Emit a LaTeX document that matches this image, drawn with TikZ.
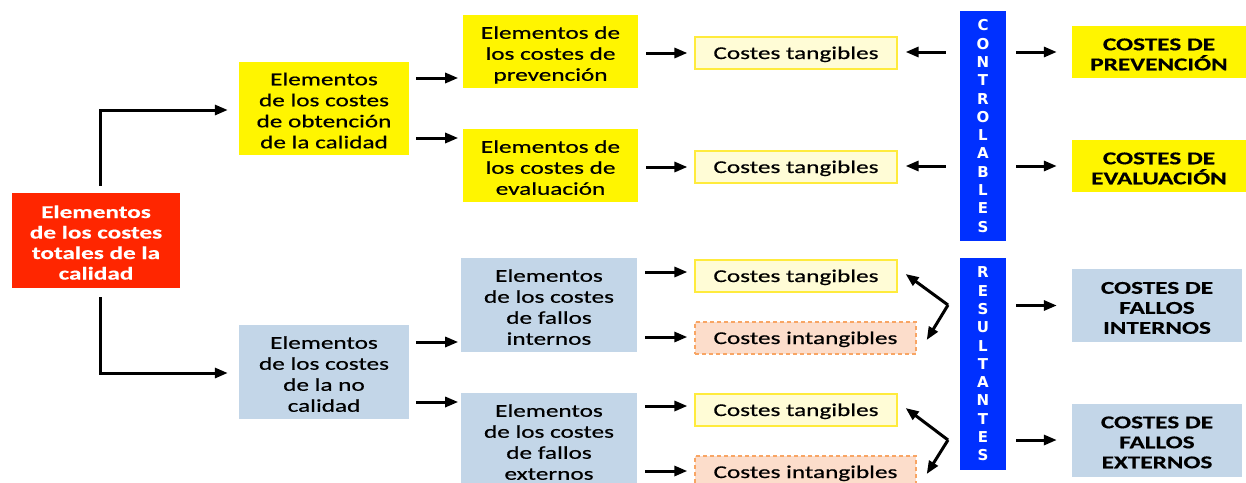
\documentclass[tikz,border=0pt]{standalone}
\usepackage{fontspec}
\setmainfont[FakeStretch=1.4, UprightFeatures={FakeBold=0.5}, BoldFeatures={FakeBold=0.4}]{Carlito}
\newfontfamily\barfont{DejaVu Sans}
\usetikzlibrary{arrows.meta,calc}
\definecolor{myred}{RGB}{255,38,0}
\definecolor{myyellow}{RGB}{255,245,0}
\definecolor{lblue}{RGB}{195,214,232}
\definecolor{barblue}{RGB}{0,48,255}
\definecolor{tfill}{RGB}{255,252,214}
\definecolor{tborder}{RGB}{255,235,60}
\definecolor{ifill}{RGB}{252,221,203}
\definecolor{iborder}{RGB}{248,165,100}
\newcommand{\fs}{\rule{0pt}{20.5pt}}
\newcommand{\ls}{\rule[-4pt]{0pt}{4pt}}
\newcommand{\sst}{\rule[-4pt]{0pt}{20pt}}
\begin{document}
\begin{tikzpicture}[x=1pt,y=-1pt,
  base/.style={inner sep=0pt, align=center, font=\fontsize{18}{21}\selectfont},
  redbox/.style={base, fill=myred, text=white, font=\bfseries\fontsize{18}{20.5}\selectfont, minimum width=168pt, minimum height=95pt},
  ybox/.style={base, fill=myyellow},
  bbox/.style={base, fill=lblue},
  tang/.style={base, fill=tfill, draw=tborder, line width=1.2pt, minimum width=202pt, minimum height=32pt},
  intang/.style={base, fill=ifill, draw=iborder, line width=1.4pt, dash pattern=on 4pt off 3pt, minimum width=221pt, minimum height=32pt},
  bar/.style={inner sep=0pt, align=center, fill=barblue, text=white, font=\barfont\bfseries\fontsize{15}{18.3}\selectfont, minimum width=46pt},
  rbox/.style={base, font=\bfseries\fontsize{18}{20}\selectfont},
  arr/.style={line width=3pt, -{Triangle[length=13pt,width=10pt]}},
]
\useasboundingbox (0,0) rectangle (1246,482);
\clip (0,0) rectangle (1246,482);

% left
\node[redbox] (tot) at (96,240.5) {\fs Elementos\\de los costes\\totales de la\\calidad\ls};
\node[ybox, minimum width=170pt, minimum height=93pt] (obt) at (324,108.5) {\fs Elementos\\de los costes\\de obtención\\de la calidad\ls};
\node[bbox, minimum width=170pt, minimum height=94pt] (noc) at (324,372) {\fs Elementos\\de los costes\\de la no\\calidad\ls};

% middle
\node[ybox, minimum width=175pt, minimum height=73pt] (prev) at (550.5,51.5) {\fs Elementos de\\los costes de\\prevención\ls};
\node[ybox, minimum width=175pt, minimum height=73pt] (eval) at (550.5,165.5) {\fs Elementos de\\los costes de\\evaluación\ls};
\node[bbox, minimum width=176pt, minimum height=94pt] (fi) at (549,305) {\fs Elementos\\de los costes\\de fallos\\internos\ls};
\node[bbox, minimum width=176pt, minimum height=94pt] (fe) at (549,440) {\fs Elementos\\de los costes\\de fallos\\externos\ls};

% tangibles / intangibles
\node[tang] (t1) at (796,53) {\sst Costes tangibles};
\node[tang] (t2) at (796,167) {\sst Costes tangibles};
\node[tang] (t3) at (796,276) {\sst Costes tangibles};
\node[intang] (i1) at (805.5,338) {\sst Costes intangibles};
\node[tang] (t4) at (796,410) {\sst Costes tangibles};
\node[intang] (i2) at (805.5,472) {\sst Costes intangibles};

% bars
\node[bar, minimum height=230pt] (ctrl) at (983,126) {C\\O\\N\\T\\R\\O\\L\\A\\B\\L\\E\\S};
\node[bar, minimum height=212pt] (res) at (983,364) {R\\E\\S\\U\\L\\T\\A\\N\\T\\E\\S};

% right
\node[rbox, fill=myyellow, minimum width=174pt, minimum height=52pt] (rp) at (1159,52) {\fs COSTES DE\\PREVENCIÓN\ls};
\node[rbox, fill=myyellow, minimum width=174pt, minimum height=52pt] (re) at (1159,166) {\fs COSTES DE\\EVALUACIÓN\ls};
\node[rbox, fill=lblue, minimum width=170pt, minimum height=73pt] (rfi) at (1157,305.5) {\fs COSTES DE\\FALLOS\\INTERNOS\ls};
\node[rbox, fill=lblue, minimum width=170pt, minimum height=73pt] (rfe) at (1157,440) {\fs COSTES DE\\FALLOS\\EXTERNOS\ls};

% elbow arrows
\draw[arr] ([xshift=4pt,yshift=7pt]tot.north) |- ([xshift=-11pt,yshift=-1.5pt]obt.west);
\draw[arr] ([xshift=4pt,yshift=-9pt]tot.south) |- ([xshift=-11pt,yshift=-1pt]noc.west);

% left to middle
\draw[arr] ($(obt.east)+(7,-30.5)$) -- ++(42,0);
\draw[arr] ($(obt.east)+(7,29.5)$) -- ++(42,0);
\draw[arr] ($(noc.east)+(7,-30)$) -- ++(42,0);
\draw[arr] ($(noc.east)+(7,30)$) -- ++(42,0);

% middle to tangibles
\draw[arr] ($(prev.east |- t1.west)+(8,0)$) -- ($(t1.west)+(-7,0)$);
\draw[arr] ($(eval.east |- t2.west)+(8,0)$) -- ($(t2.west)+(-7,0)$);
\draw[arr] ($(fi.east |- t3.west)+(8,-4)$) -- ($(t3.west)+(-7,-4)$);
\draw[arr] ($(fi.east |- i1.west)+(8,-1)$) -- ($(i1.west)+(-7,-1)$);
\draw[arr] ($(fe.east |- t4.west)+(8,-4)$) -- ($(t4.west)+(-7,-4)$);
\draw[arr] ($(fe.east |- i2.west)+(8,-1)$) -- ($(i2.west)+(-7,-1)$);

% bars to tangibles
\draw[arr] ($(ctrl.west |- t1.east)+(-14,-1)$) -- ($(t1.east)+(8,-1)$);
\draw[arr] ($(ctrl.west |- t2.east)+(-14,-1)$) -- ($(t2.east)+(8,-1)$);

% forked arrows
\coordinate (j1) at (948,305);
\coordinate (j2) at (948,440);
\draw[arr] (j1) -- ($(t3.east)+(8,-2)$);
\draw[arr] (j1) -- ($(i1.east)+(10,2)$);
\draw[arr] (j2) -- ($(t4.east)+(8,-2)$);
\draw[arr] (j2) -- ($(i2.east)+(10,2)$);

% bars to right
\draw[arr] ($(ctrl.east |- rp.west)+(10,0)$) -- ($(rp.west)+(-15,0)$);
\draw[arr] ($(ctrl.east |- re.west)+(10,0)$) -- ($(re.west)+(-15,0)$);
\draw[arr] ($(res.east |- rfi.west)+(10,0)$) -- ($(rfi.west)+(-15,0)$);
\draw[arr] ($(res.east |- rfe.west)+(10,0)$) -- ($(rfe.west)+(-15,0)$);
\end{tikzpicture}
\end{document}
